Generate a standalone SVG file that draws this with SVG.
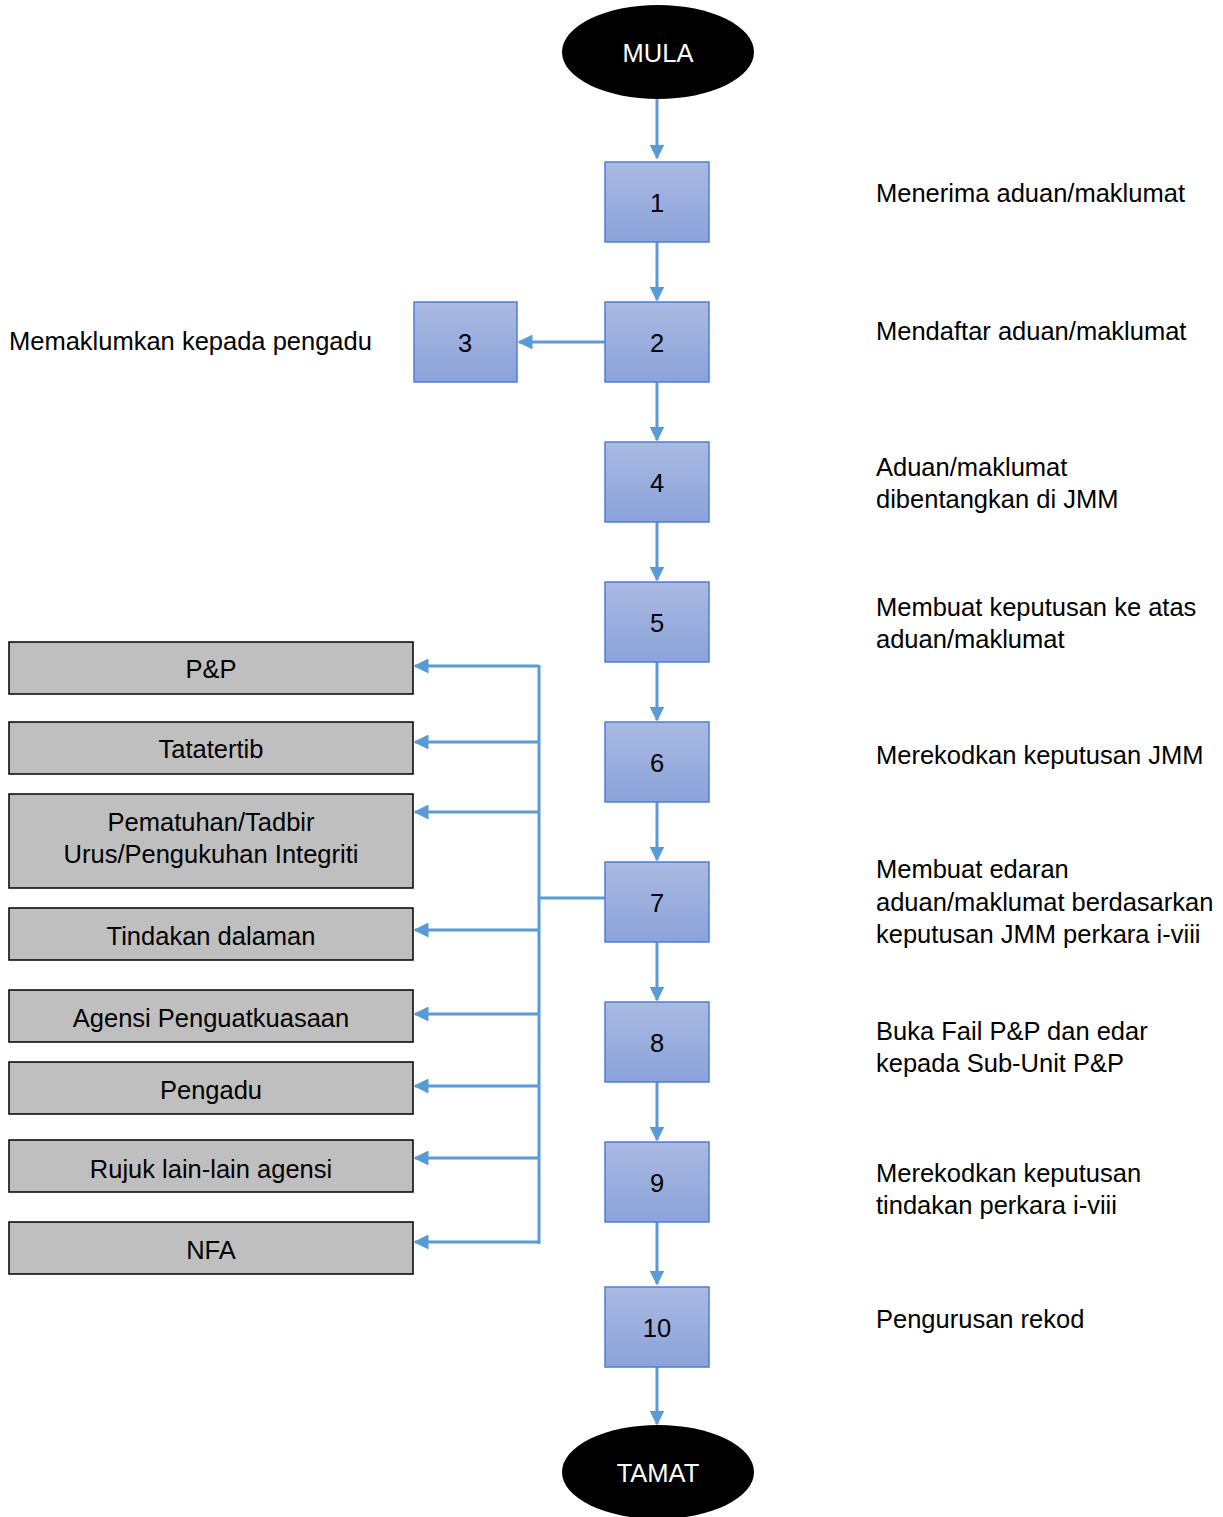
<svg xmlns="http://www.w3.org/2000/svg" width="1223" height="1517" viewBox="0 0 1223 1517">
<style>
text{font-family:"Liberation Sans",Arial,sans-serif;font-size:25.5px;fill:#000}
.c{text-anchor:middle}
.w{fill:#fff}
.step{fill:url(#g);stroke:#4f7fcf;stroke-width:1.5}
.gray{fill:#bfbfbf;stroke:#000;stroke-width:1.5}
.ln{stroke:#5b9bd5;stroke-width:3;fill:none}
</style>
<defs>
<linearGradient id="g" x1="0" y1="0" x2="0" y2="1"><stop offset="0" stop-color="#abb9e2"/><stop offset="1" stop-color="#8aa3d9"/></linearGradient>
<marker id="a" viewBox="0 0 10 10" refX="9" refY="5" markerWidth="5" markerHeight="5" orient="auto" markerUnits="strokeWidth"><path d="M0,0L10,5L0,10z" fill="#5b9bd5"/></marker>
</defs>
<g id="connectors">
<line class="ln" x1="657" y1="99" x2="657" y2="158" marker-end="url(#a)"/>
<line class="ln" x1="657" y1="242" x2="657" y2="300" marker-end="url(#a)"/>
<line class="ln" x1="605" y1="342" x2="519" y2="342" marker-end="url(#a)"/>
<line class="ln" x1="657" y1="382" x2="657" y2="440" marker-end="url(#a)"/>
<line class="ln" x1="657" y1="522" x2="657" y2="580" marker-end="url(#a)"/>
<line class="ln" x1="657" y1="662" x2="657" y2="720" marker-end="url(#a)"/>
<line class="ln" x1="657" y1="802" x2="657" y2="860" marker-end="url(#a)"/>
<line class="ln" x1="657" y1="942" x2="657" y2="1000" marker-end="url(#a)"/>
<line class="ln" x1="657" y1="1082" x2="657" y2="1140" marker-end="url(#a)"/>
<line class="ln" x1="657" y1="1222" x2="657" y2="1284" marker-end="url(#a)"/>
<line class="ln" x1="657" y1="1367" x2="657" y2="1424" marker-end="url(#a)"/>
<line class="ln" x1="605" y1="898" x2="539" y2="898"/>
<line class="ln" x1="539" y1="665" x2="539" y2="1244"/>
<line class="ln" x1="539" y1="666" x2="415" y2="666" marker-end="url(#a)"/>
<line class="ln" x1="539" y1="742" x2="415" y2="742" marker-end="url(#a)"/>
<line class="ln" x1="539" y1="812" x2="415" y2="812" marker-end="url(#a)"/>
<line class="ln" x1="539" y1="930" x2="415" y2="930" marker-end="url(#a)"/>
<line class="ln" x1="539" y1="1014" x2="415" y2="1014" marker-end="url(#a)"/>
<line class="ln" x1="539" y1="1086" x2="415" y2="1086" marker-end="url(#a)"/>
<line class="ln" x1="539" y1="1158" x2="415" y2="1158" marker-end="url(#a)"/>
<line class="ln" x1="539" y1="1242" x2="415" y2="1242" marker-end="url(#a)"/>
</g>
<g id="mula"><ellipse cx="658" cy="52" rx="96" ry="47" fill="#000"/><text class="c w" x="658" y="62">MULA</text></g>
<g id="tamat"><ellipse cx="658" cy="1472" rx="96" ry="47" fill="#000"/><text class="c w" x="658" y="1482">TAMAT</text></g>
<g id="n1"><rect class="step" x="605" y="162" width="104" height="80"/><text class="c" x="657" y="212">1</text></g>
<g id="n2"><rect class="step" x="605" y="302" width="104" height="80"/><text class="c" x="657" y="352">2</text></g>
<g id="n3"><rect class="step" x="414" y="302" width="103" height="80"/><text class="c" x="465" y="352">3</text></g>
<g id="n4"><rect class="step" x="605" y="442" width="104" height="80"/><text class="c" x="657" y="492">4</text></g>
<g id="n5"><rect class="step" x="605" y="582" width="104" height="80"/><text class="c" x="657" y="632">5</text></g>
<g id="n6"><rect class="step" x="605" y="722" width="104" height="80"/><text class="c" x="657" y="772">6</text></g>
<g id="n7"><rect class="step" x="605" y="862" width="104" height="80"/><text class="c" x="657" y="912">7</text></g>
<g id="n8"><rect class="step" x="605" y="1002" width="104" height="80"/><text class="c" x="657" y="1052">8</text></g>
<g id="n9"><rect class="step" x="605" y="1142" width="104" height="80"/><text class="c" x="657" y="1192">9</text></g>
<g id="n10"><rect class="step" x="605" y="1287" width="104" height="80"/><text class="c" x="657" y="1337">10</text></g>
<g id="b1"><rect class="gray" x="9" y="642" width="404" height="52"/><text class="c" x="211" y="678">P&amp;P</text></g>
<g id="b2"><rect class="gray" x="9" y="722" width="404" height="52"/><text class="c" x="211" y="758">Tatatertib</text></g>
<g id="b3"><rect class="gray" x="9" y="794" width="404" height="94"/><text class="c" x="211" y="831">Pematuhan/Tadbir</text><text class="c" x="211" y="863">Urus/Pengukuhan Integriti</text></g>
<g id="b4"><rect class="gray" x="9" y="908" width="404" height="52"/><text class="c" x="211" y="945">Tindakan dalaman</text></g>
<g id="b5"><rect class="gray" x="9" y="990" width="404" height="52"/><text class="c" x="211" y="1027">Agensi Penguatkuasaan</text></g>
<g id="b6"><rect class="gray" x="9" y="1062" width="404" height="52"/><text class="c" x="211" y="1099">Pengadu</text></g>
<g id="b7"><rect class="gray" x="9" y="1140" width="404" height="52"/><text class="c" x="211" y="1178">Rujuk lain-lain agensi</text></g>
<g id="b8"><rect class="gray" x="9" y="1222" width="404" height="52"/><text class="c" x="211" y="1259">NFA</text></g>
<g id="labels">
<text x="9" y="350">Memaklumkan kepada pengadu</text>
<text x="876" y="202">Menerima aduan/maklumat</text>
<text x="876" y="340">Mendaftar aduan/maklumat</text>
<text x="876" y="476">Aduan/maklumat</text>
<text x="876" y="508">dibentangkan di JMM</text>
<text x="876" y="616">Membuat keputusan ke atas</text>
<text x="876" y="648">aduan/maklumat</text>
<text x="876" y="764">Merekodkan keputusan JMM</text>
<text x="876" y="878">Membuat edaran</text>
<text x="876" y="911">aduan/maklumat berdasarkan</text>
<text x="876" y="943">keputusan JMM perkara i-viii</text>
<text x="876" y="1040">Buka Fail P&amp;P dan edar</text>
<text x="876" y="1072">kepada Sub-Unit P&amp;P</text>
<text x="876" y="1182">Merekodkan keputusan</text>
<text x="876" y="1214">tindakan perkara i-viii</text>
<text x="876" y="1328">Pengurusan rekod</text>
</g>
</svg>
